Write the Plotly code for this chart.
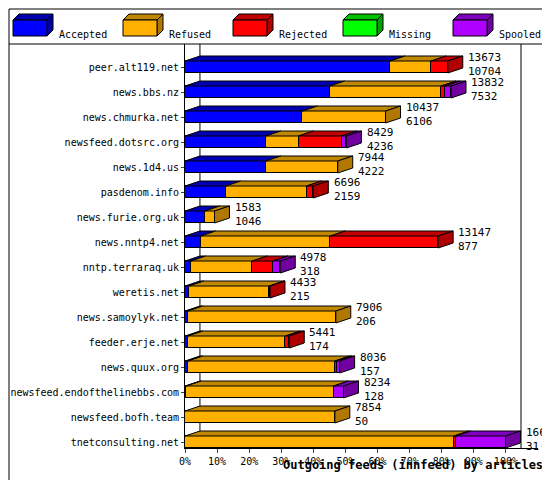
import plotly.graph_objects as go

feeds = ["peer.alt119.net", "news.bbs.nz", "news.chmurka.net", "newsfeed.dotsrc.org",
         "news.1d4.us", "pasdenom.info", "news.furie.org.uk", "news.nntp4.net",
         "nntp.terraraq.uk", "weretis.net", "news.samoylyk.net", "feeder.erje.net",
         "news.quux.org", "newsfeed.endofthelinebbs.com", "newsfeed.bofh.team", "tnetconsulting.net"]
accepted = [63.9, 45.1, 36.6, 25.2, 25.2, 12.7, 6.2, 4.9, 1.8, 1.2, 0.9, 0.9, 0.9, 0.4, 0.0, 0.0]
refused  = [12.8, 34.7, 25.9, 10.2, 22.4, 25.2, 3.0, 40.4, 19.2, 25.1, 46.1, 30.4, 45.8, 45.9, 46.7, 83.8]
rejected = [5.2, 1.2, 0.0, 13.4, 0.0, 2.1, 0.0, 33.6, 6.4, 0.2, 0.0, 1.2, 0.6, 0.0, 0.0, 0.6]
missing  = [0.0] * 16
spooled  = [0.0, 1.9, 0.0, 1.5, 0.0, 0.0, 0.0, 0.0, 2.3, 0.0, 0.0, 0.0, 0.9, 3.1, 0.0, 15.5]
offered  = ["13673", "13832", "10437", "8429", "7944", "6696", "1583", "13147", "4978", "4433",
            "7906", "5441", "8036", "8234", "7854", "16652"]
acc_cnt  = ["10704", "7532", "6106", "4236", "4222", "2159", "1046", "877", "318", "215",
            "206", "174", "157", "128", "50", "31·"]
series_names = ["Accepted", "Refused", "Rejected", "Missing", "Spooled"]
front = ["#0000FF", "#FFB000", "#FF0000", "#00FF00", "#B000FF"]
top = ["#0000B0", "#C08800", "#C00000", "#00C000", "#8000C0"]
side = ["#0000A0", "#B07800", "#B00000", "#00A000", "#7000A0"]

series = [accepted, refused, rejected, missing, spooled]
n = len(feeds)
ys = list(range(n))
DX, DY, H = 4.66, 0.2, 0.24
X0, XW = 177, 353
Y0, YH = 440, 404
font = "DejaVu Sans Mono"

fig = go.Figure()
shapes = []
for k in range(5):
    base = [sum(series[j][i] for j in range(k)) for i in range(n)]
    fig.add_trace(go.Bar(y=ys, x=series[k], base=base, orientation="h", width=2 * H,
                         marker=dict(color=front[k], line=dict(color="black", width=1)),
                         name=series_names[k], showlegend=False))
    for i in range(n):
        w = series[k][i]
        if w <= 0:
            continue
        b = base[i]
        yt = i - H
        shapes.append(dict(type="path", xref="x", yref="y", layer="above",
                           path=f"M{b},{yt} L{b+DX},{yt-DY} L{b+w+DX},{yt-DY} L{b+w},{yt} Z",
                           fillcolor=top[k], line=dict(color="black", width=1)))
for i in range(n):
    tot = sum(series[j][i] for j in range(5))
    last = max([j for j in range(5) if series[j][i] > 0])
    shapes.append(dict(type="path", xref="x", yref="y", layer="above",
                       path=f"M{tot},{i-H} L{tot+DX},{i-H-DY} L{tot+DX},{i+H-DY} L{tot},{i+H} Z",
                       fillcolor=side[last], line=dict(color="black", width=1)))
    fig.add_annotation(x=tot + DX + 1.0, y=i - 0.12, xref="x", yref="y", xanchor="left",
                       yanchor="middle", showarrow=False, align="left",
                       text=f"{offered[i]}<br>{acc_cnt[i]}",
                       font=dict(family=font, size=11, color="black"))

shapes.append(dict(type="line", xref="x", yref="y", x0=DX, x1=DX, y0=-0.92, y1=15.24 - DY,
                   line=dict(color="black", width=1), layer="below"))


def px(x):
    return (x - X0) / XW


def py(y):
    return (Y0 - y) / YH


shapes.append(dict(type="rect", xref="paper", yref="paper", x0=px(1), x1=px(549), y0=py(479), y1=py(1),
                   line=dict(color="black", width=1)))
shapes.append(dict(type="line", xref="paper", yref="paper", x0=px(1), x1=px(549), y0=py(36), y1=py(36),
                   line=dict(color="black", width=1)))
shapes.append(dict(type="line", xref="paper", yref="paper", x0=px(513), x1=px(513), y0=py(36), y1=py(440),
                   line=dict(color="black", width=1)))
for k in range(5):
    lx = 5 + k * 110
    shapes.append(dict(type="path", xref="paper", yref="paper",
                       path=f"M{px(lx)},{py(12)} L{px(lx+6)},{py(6)} L{px(lx+40)},{py(6)} L{px(lx+34)},{py(12)} Z",
                       fillcolor=top[k], line=dict(color="black", width=1)))
    shapes.append(dict(type="path", xref="paper", yref="paper",
                       path=f"M{px(lx+34)},{py(12)} L{px(lx+40)},{py(6)} L{px(lx+40)},{py(22)} L{px(lx+34)},{py(28)} Z",
                       fillcolor=side[k], line=dict(color="black", width=1)))
    shapes.append(dict(type="rect", xref="paper", yref="paper", x0=px(lx), x1=px(lx + 34),
                       y0=py(28), y1=py(12), fillcolor=front[k], line=dict(color="black", width=1)))
    fig.add_annotation(x=px(lx + 44), y=py(19), xref="paper", yref="paper", xanchor="left",
                       showarrow=False, text=series_names[k],
                       font=dict(family=font, size=10, color="black"))

fig.add_annotation(x=px(273), y=py(466), xref="paper", yref="paper", showarrow=False,
                   text="<b>Outgoing feeds (innfeed) by articles</b>",
                   font=dict(family=font, size=12, color="black"))

fig.update_layout(
    width=550, height=480, margin=dict(l=177, r=20, t=36, b=40),
    paper_bgcolor="white", plot_bgcolor="white", barmode="overlay", bargap=0,
    shapes=shapes,
    xaxis=dict(range=[0, 110], tickvals=list(range(0, 101, 10)),
               ticktext=[f"{v}%" for v in range(0, 101, 10)], ticks="outside", ticklen=4,
               showgrid=False, zeroline=False, showline=True, linecolor="black", automargin=False,
               tickfont=dict(family=font, size=10, color="black")),
    yaxis=dict(range=[15.24, -0.92], tickvals=ys, ticktext=feeds, ticks="outside", ticklen=3,
               showgrid=False, zeroline=False, showline=True, linecolor="black", automargin=False,
               tickfont=dict(family=font, size=10, color="black")),
)
fig.write_html("out.html")
